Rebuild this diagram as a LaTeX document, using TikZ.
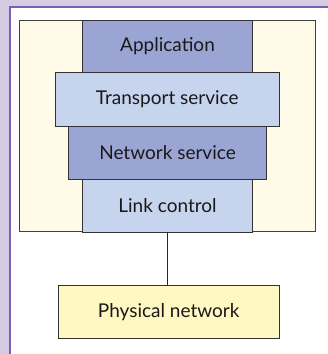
\documentclass[tikz,border=0pt]{standalone}
\usepackage{fontspec}
\setmainfont{Lato}
\definecolor{lavender}{HTML}{D5CCE3}
\definecolor{frame}{HTML}{7D5CB4}
\definecolor{cream}{HTML}{FFFBE8}
\definecolor{layerdark}{HTML}{9BA5D4}
\definecolor{layerlight}{HTML}{C7D4EE}
\definecolor{wire}{HTML}{FFF8C2}
\tikzset{
    layer/.style={draw=black!80,line width=0.9pt,inner sep=0pt,text=black!90,font=\fontsize{19}{22}\selectfont},
}
\begin{document}
\begin{tikzpicture}[x=1pt,y=-1pt]
    \useasboundingbox (0,0) rectangle (328,354);
    % panel background
    \fill[lavender] (0,0) rectangle (328,354);
    \fill[white] (10,7) rectangle (328,354);
    \draw[frame,line width=1.5pt] (10,354) -- (10,7) -- (328,7);
    % host box with the protocol stack
    \node[draw=black!75,line width=0.9pt,fill=cream,inner sep=0pt,minimum width=296pt,minimum height=211.7pt] (host) at (167.3,125.85) {};
    \node[layer,fill=layerdark,minimum width=170.4pt,minimum height=52.7pt] (app) at (167.5,46.35) {Application};
    \node[layer,fill=layerlight,minimum width=224pt,minimum height=53.3pt] (trans) at (167.3,99.35) {Transport service};
    \node[layer,fill=layerdark,minimum width=197.6pt,minimum height=53.3pt] (net) at (167.5,152.65) {Network service};
    \node[layer,fill=layerlight,minimum width=170.4pt,minimum height=52.7pt] (link) at (167.5,205.65) {Link control};
    % physical network below
    \node[layer,fill=wire,minimum width=221.3pt,minimum height=53.3pt] (phys) at (168.7,311.65) {Physical network};
    \draw[black!85,line width=1.3pt] (link.south) -- (link.south |- phys.north);
\end{tikzpicture}
\end{document}
